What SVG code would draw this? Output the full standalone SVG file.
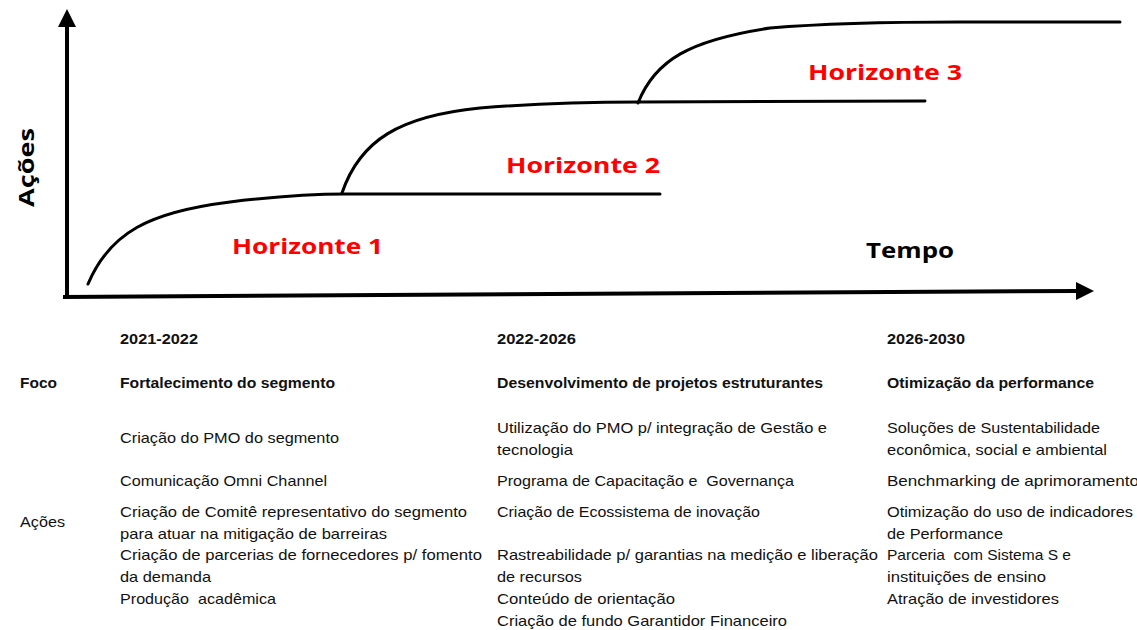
<svg xmlns="http://www.w3.org/2000/svg" width="1137" height="630" viewBox="0 0 1137 630">
<style>
text{white-space:pre}
.ln{fill:none;stroke:#000;stroke-width:3;stroke-linecap:round}
.axl{fill:none;stroke:#000;stroke-width:4}
.hz{font-family:"Open Sans","Liberation Sans",sans-serif;font-weight:bold;font-size:22px;fill:#ff0000}
.ax{font-family:"Open Sans","Liberation Sans",sans-serif;font-weight:bold;font-size:22px;fill:#000}
.t{font-family:"Liberation Sans",Arial,sans-serif;font-size:15px;fill:#111}
.b{font-family:"Liberation Sans",Arial,sans-serif;font-size:15px;font-weight:bold;fill:#111}
</style>
<defs>
<marker id="arr" viewBox="0 0 18 18" refX="1" refY="9" markerWidth="18" markerHeight="18" orient="auto" markerUnits="userSpaceOnUse">
<path d="M0,0 L18,9 L0,18 Z" fill="#000"/>
</marker>
</defs>
<rect width="1137" height="630" fill="#fff"/>
<g id="connectors">
<path class="axl" d="M67,297 L67,26" marker-end="url(#arr)"/>
<path class="axl" d="M63,297 L1077,291" marker-end="url(#arr)"/>
</g>
<g id="curves">
<path id="curve1" class="ln" d="M88,284 C110,232 150,212 230,202 C280,196 320,194 345,194 L660,194"/>
<path id="curve2" class="ln" d="M342,193 C360,140 400,116 480,108 C540,103 600,102 640,102 L925,101"/>
<path id="curve3" class="ln" d="M638,103 C655,60 690,40 770,28 C830,23 900,22 960,22 L1120,22"/>
</g>
<g id="chart-labels">
<text class="hz" x="232" y="254" textLength="151" lengthAdjust="spacingAndGlyphs">Horizonte 1</text>
<text class="hz" x="506" y="173" textLength="154" lengthAdjust="spacingAndGlyphs">Horizonte 2</text>
<text class="hz" x="808" y="80" textLength="154" lengthAdjust="spacingAndGlyphs">Horizonte 3</text>
<text class="ax" x="866" y="258" textLength="88" lengthAdjust="spacingAndGlyphs">Tempo</text>
<text class="ax" transform="translate(34,207) rotate(-90)" textLength="79" lengthAdjust="spacingAndGlyphs">Ações</text>
</g>
<g id="row-labels">
<text class="b" x="20" y="388" textLength="37" lengthAdjust="spacingAndGlyphs">Foco</text>
<text class="t" x="20" y="527" textLength="45" lengthAdjust="spacingAndGlyphs">Ações</text>
</g>
<g id="col1">
<text class="b" x="120" y="344" textLength="78" lengthAdjust="spacingAndGlyphs">2021-2022</text>
<text class="b" x="120" y="388" textLength="215" lengthAdjust="spacingAndGlyphs">Fortalecimento do segmento</text>
<text class="t" x="120" y="443" textLength="219" lengthAdjust="spacingAndGlyphs">Criação do PMO do segmento</text>
<text class="t" x="120" y="486" textLength="207" lengthAdjust="spacingAndGlyphs">Comunicação Omni Channel</text>
<text class="t" x="120" y="517" textLength="347" lengthAdjust="spacingAndGlyphs">Criação de Comitê representativo do segmento</text>
<text class="t" x="120" y="539" textLength="267" lengthAdjust="spacingAndGlyphs">para atuar na mitigação de barreiras</text>
<text class="t" x="120" y="560" textLength="362" lengthAdjust="spacingAndGlyphs">Criação de parcerias de fornecedores p/ fomento</text>
<text class="t" x="120" y="582" textLength="91" lengthAdjust="spacingAndGlyphs">da demanda</text>
<text class="t" x="120" y="604" textLength="156" lengthAdjust="spacingAndGlyphs">Produção  acadêmica</text>
</g>
<g id="col2">
<text class="b" x="497" y="344" textLength="79" lengthAdjust="spacingAndGlyphs">2022-2026</text>
<text class="b" x="497" y="388" textLength="326" lengthAdjust="spacingAndGlyphs">Desenvolvimento de projetos estruturantes</text>
<text class="t" x="497" y="433" textLength="330" lengthAdjust="spacingAndGlyphs">Utilização do PMO p/ integração de Gestão e</text>
<text class="t" x="497" y="455" textLength="76" lengthAdjust="spacingAndGlyphs">tecnologia</text>
<text class="t" x="497" y="486" textLength="297" lengthAdjust="spacingAndGlyphs">Programa de Capacitação e  Governança</text>
<text class="t" x="497" y="517" textLength="263" lengthAdjust="spacingAndGlyphs">Criação de Ecossistema de inovação</text>
<text class="t" x="497" y="560" textLength="381" lengthAdjust="spacingAndGlyphs">Rastreabilidade p/ garantias na medição e liberação</text>
<text class="t" x="497" y="582" textLength="85" lengthAdjust="spacingAndGlyphs">de recursos</text>
<text class="t" x="497" y="604" textLength="178" lengthAdjust="spacingAndGlyphs">Conteúdo de orientação</text>
<text class="t" x="497" y="626" textLength="290" lengthAdjust="spacingAndGlyphs">Criação de fundo Garantidor Financeiro</text>
</g>
<g id="col3">
<text class="b" x="887" y="344" textLength="78" lengthAdjust="spacingAndGlyphs">2026-2030</text>
<text class="b" x="887" y="388" textLength="207" lengthAdjust="spacingAndGlyphs">Otimização da performance</text>
<text class="t" x="887" y="433" textLength="213" lengthAdjust="spacingAndGlyphs">Soluções de Sustentabilidade</text>
<text class="t" x="887" y="455" textLength="220" lengthAdjust="spacingAndGlyphs">econômica, social e ambiental</text>
<text class="t" x="887" y="486" textLength="252" lengthAdjust="spacingAndGlyphs">Benchmarking de aprimoramento</text>
<text class="t" x="887" y="517" textLength="246" lengthAdjust="spacingAndGlyphs">Otimização do uso de indicadores</text>
<text class="t" x="887" y="539" textLength="116" lengthAdjust="spacingAndGlyphs">de Performance</text>
<text class="t" x="887" y="560" textLength="184" lengthAdjust="spacingAndGlyphs">Parceria  com Sistema S e</text>
<text class="t" x="887" y="582" textLength="159" lengthAdjust="spacingAndGlyphs">instituições de ensino</text>
<text class="t" x="887" y="604" textLength="172" lengthAdjust="spacingAndGlyphs">Atração de investidores</text>
</g>
</svg>
